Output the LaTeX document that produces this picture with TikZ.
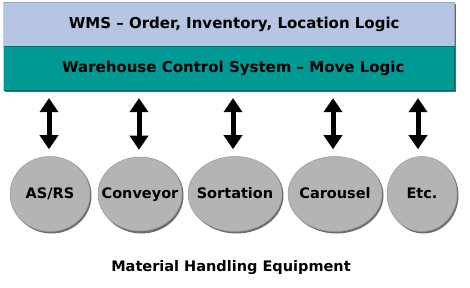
\documentclass[tikz,border=0pt]{standalone}
\usepackage{fontspec}
\setmainfont{DejaVu Sans}
\usetikzlibrary{arrows.meta,shapes.geometric}
\definecolor{wmsblue}{RGB}{182,197,226}
\definecolor{wcsteal}{RGB}{0,153,148}
\definecolor{wcsedge}{RGB}{0,110,105}
\definecolor{boxshadow}{RGB}{60,120,118}
\definecolor{highlight}{RGB}{150,225,225}
\definecolor{mhegray}{RGB}{180,180,180}
\definecolor{mheshadow}{RGB}{110,110,110}
\newcommand{\zerow}[1]{\makebox[0pt]{#1}}
\tikzset{
  x=1pt,y=-1pt,
  layer/.style={minimum width=451pt,minimum height=44pt,inner sep=0pt,font=\bfseries\fontsize{15}{17}\selectfont,text=black},
  mhe/.style={ellipse,fill=mhegray,draw=gray!80,line width=0.5pt,inner sep=0pt,text height=11pt,text depth=3pt,font=\bfseries\fontsize{14.5}{17}\selectfont},
  link/.style={line width=5pt,{Triangle[width=18pt,length=14pt]}-{Triangle[width=18pt,length=14pt]},shorten <=7pt,shorten >=7pt}
}
\begin{document}
\begin{tikzpicture}
\useasboundingbox (0,0) rectangle (470,288);
% shadows
\fill[boxshadow] (5,4) rectangle (456,92.5);
\node[layer,fill=wmsblue,draw=wmsblue!85!black,line width=0.4pt,anchor=north west] (wms) at (3,2) {\hspace{11pt}WMS – Order, Inventory, Location Logic};
\node[layer,fill=wcsteal,draw=wcsedge,line width=0.6pt,anchor=north west] (wcs) at (3,46.5) {\hspace{9pt}Warehouse Control System – Move Logic};
\draw[highlight,line width=1pt] (wms.north west) -- (wcs.south west);
% ellipses
\foreach \n/\cx/\rx in {asrs/50/40,conv/140/42,sort/235/47,caro/335/47,etc/422/35}{
  \fill[mheshadow] (\cx+1.5,195.5) ellipse ({\rx} and 38);
}
\node[mhe,minimum width=80pt,minimum height=75pt] (asrs) at (50,194) {\zerow{AS/RS}};
\node[mhe,minimum width=84pt,minimum height=74pt] (conv) at (140,194) {\zerow{Conveyor}};
\node[mhe,minimum width=94pt,minimum height=75pt] (sort) at (235,194) {\zerow{Sortation}};
\node[mhe,minimum width=94pt,minimum height=75pt] (caro) at (335,194) {\zerow{Carousel}};
\node[mhe,minimum width=70pt,minimum height=75pt] (etc) at (422,194) {\zerow{Etc.}};
% arrows
\foreach \n/\ax in {asrs/49,conv/139,sort/233,caro/333,etc/418}{
  \draw[link] (\ax,0 |- \n.north) -- (\ax,0 |- wcs.south);
}
\node[font=\bfseries\fontsize{14.5}{17}\selectfont] (mhelabel) at (231,268) {Material Handling Equipment};
\end{tikzpicture}
\end{document}
